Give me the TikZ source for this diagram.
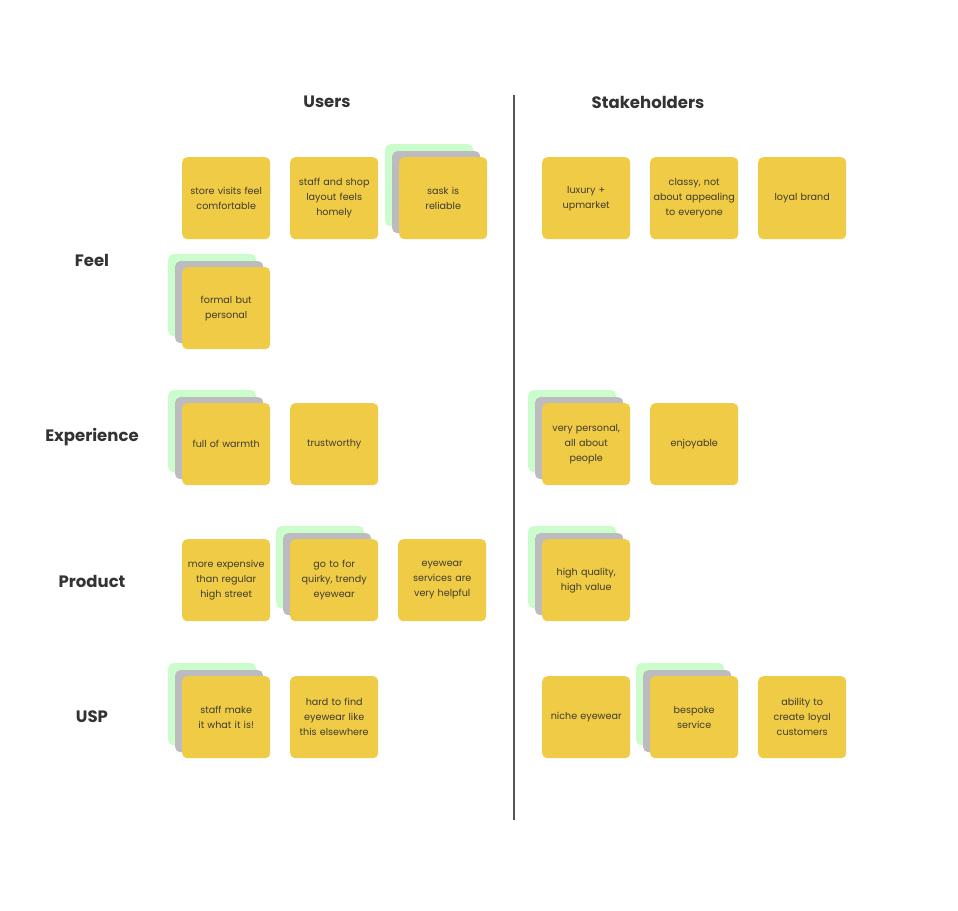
\documentclass[tikz,border=0pt]{standalone}
\usepackage{fontspec}
\setmainfont{Poppins}
\definecolor{noteyellow}{HTML}{F0CB45}
\definecolor{notegray}{HTML}{BCBCC0}
\definecolor{notegreen}{HTML}{CBFCCB}
\definecolor{notetext}{HTML}{3E3C30}
\definecolor{labeltext}{HTML}{333333}
\definecolor{divider}{HTML}{555555}
\tikzset{
  notebase/.style={anchor=north west, minimum width=88pt, minimum height=82pt, rounded corners=5pt, inner sep=0pt},
  note/.style={notebase, fill=noteyellow, text=notetext, text width=87pt, align=center, font=\fontsize{9.6}{15}\selectfont},
  graynote/.style={notebase, fill=notegray},
  greennote/.style={notebase, fill=notegreen},
  heading/.style={font=\fontsize{16.5}{19}\selectfont\bfseries, text=labeltext},
}
\newcommand\plainnote[4]{\node[note] (#1) at (#2,#3) {#4};}
\newcommand\stacknote[4]{%
  \node[greennote] (#1g) at ({#2-14},{#3-13}) {};
  \node[graynote] (#1s) at ({#2-7},{#3-6}) {};
  \node[note] (#1) at (#2,#3) {#4};}
\begin{document}
\begin{tikzpicture}[x=1pt,y=-1pt]
\useasboundingbox[fill=white] (0,0) rectangle (958,910);
% headings
\node[heading] (users) at (327,102) {Users};
\node[heading] (stake) at (648,102) {Stakeholders};
\node[heading] (feel) at (92,260) {Feel};
\node[heading] (exp) at (92,437) {Experience};
\node[heading] (prod) at (92,581) {Product};
\node[heading] (usp) at (92,717) {USP};
% divider
\coordinate (dtop) at (514,95);
\coordinate (dbot) at (514,820);
\draw[divider, line width=1.6pt] (dtop) -- (dbot);
% Feel
\plainnote{n1}{182}{157}{store visits feel\\comfortable}
\plainnote{n2}{290}{157}{staff and shop\\layout feels\\homely}
\stacknote{n3}{399}{157}{sask is\\reliable}
\stacknote{n4}{182}{267}{formal but\\personal}
\plainnote{s1}{542}{157}{luxury +\\upmarket}
\plainnote{s2}{650}{157}{classy, not\\about appealing\\to everyone}
\plainnote{s3}{758}{157}{loyal brand}
% Experience
\stacknote{n5}{182}{403}{full of warmth}
\plainnote{n6}{290}{403}{trustworthy}
\stacknote{s4}{542}{403}{very personal,\\all about\\people}
\plainnote{s5}{650}{403}{enjoyable}
% Product
\plainnote{n7}{182}{539}{more expensive\\than regular\\high street}
\stacknote{n8}{290}{539}{go to for\\quirky, trendy\\eyewear}
\plainnote{n9}{398}{539}{eyewear\\services are\\very helpful}
\stacknote{s6}{542}{539}{high quality,\\high value}
% USP
\stacknote{n10}{182}{676}{staff make\\it what it is!}
\plainnote{n11}{290}{676}{hard to find\\eyewear like\\this elsewhere}
\plainnote{s7}{542}{676}{niche eyewear}
\stacknote{s8}{650}{676}{bespoke\\service}
\plainnote{s9}{758}{676}{ability to\\create loyal\\customers}
\end{tikzpicture}
\end{document}
